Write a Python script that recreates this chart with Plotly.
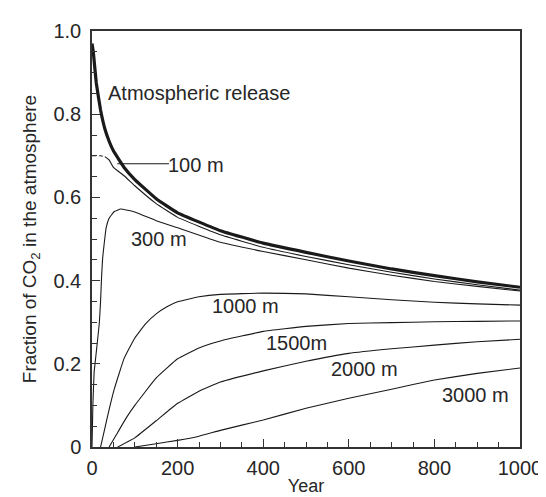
import plotly.graph_objects as go

# ---- data ----
atm_years = [0, 3, 10, 20, 30, 40, 50, 75, 100, 150, 200, 300, 400, 500, 600, 700, 800, 900, 1000]
atm_vals = [0.97, 0.95, 0.875, 0.81, 0.765, 0.735, 0.712, 0.672, 0.643, 0.597, 0.563, 0.52, 0.49, 0.468, 0.447, 0.428, 0.412, 0.397, 0.384]

m100_dash_years = [0, 10, 20, 30]
m100_dash_vals = [0.70, 0.70, 0.70, 0.698]
m100_years = [30, 40, 50, 75, 100, 150, 200, 300, 400, 500, 600, 700, 800, 900, 1000]
m100_vals = [0.698, 0.69, 0.672, 0.652, 0.628, 0.585, 0.552, 0.51, 0.48, 0.458, 0.438, 0.42, 0.404, 0.39, 0.377]

m300_years = [0, 2, 5, 10, 17, 20, 22, 25, 33, 40, 52, 67, 100, 150, 200, 300, 400, 500, 600, 700, 800, 900, 1000]
m300_vals = [0.0, 0.1, 0.18, 0.228, 0.297, 0.35, 0.40, 0.455, 0.527, 0.55, 0.566, 0.572, 0.565, 0.544, 0.527, 0.492, 0.47, 0.45, 0.43, 0.413, 0.398, 0.386, 0.375]

m1000_years = [20, 30, 40, 52, 75, 100, 125, 150, 175, 200, 250, 300, 400, 500, 600, 700, 800, 900, 1000]
m1000_vals = [0.0, 0.045, 0.09, 0.139, 0.213, 0.262, 0.296, 0.32, 0.337, 0.349, 0.361, 0.367, 0.37, 0.368, 0.361, 0.354, 0.348, 0.344, 0.341]

m1500_years = [40, 60, 80, 100, 150, 200, 250, 300, 400, 500, 600, 700, 800, 900, 1000]
m1500_vals = [0.0, 0.035, 0.07, 0.10, 0.166, 0.212, 0.238, 0.255, 0.278, 0.29, 0.297, 0.299, 0.301, 0.302, 0.303]

m2000_years = [60, 100, 150, 200, 250, 300, 400, 500, 600, 700, 800, 900, 1000]
m2000_vals = [0.0, 0.022, 0.063, 0.105, 0.134, 0.156, 0.183, 0.206, 0.225, 0.236, 0.245, 0.253, 0.259]

m3000_years = [100, 150, 200, 250, 300, 400, 500, 600, 700, 800, 900, 1000]
m3000_vals = [0.0, 0.008, 0.016, 0.026, 0.04, 0.065, 0.093, 0.117, 0.139, 0.161, 0.177, 0.19]

label_texts = ["Atmospheric release", "300 m", "1000 m", "1500m", "2000 m", "3000 m"]
label_x = [40, 93, 283, 409, 561, 819]
label_y = [0.851, 0.499, 0.338, 0.249, 0.188, 0.124]

leader_x = [59, 180]
leader_y = [0.681, 0.681]
leader_text = "100 m"

x_ticks = [0, 200, 400, 600, 800, 1000]
y_ticks = [0, 0.2, 0.4, 0.6, 0.8, 1.0]
y_ticktext = ["0", "0.2", "0.4", "0.6", "0.8", "1.0"]

FONT = "Liberation Sans, Arial, sans-serif"
TXT = "#262626"
LINE = "#1a1a1a"

fig = go.Figure()

def add_line(xs, ys, width=1.1, dash="solid"):
    fig.add_trace(go.Scatter(x=xs, y=ys, mode="lines",
                             line=dict(color=LINE, width=width, dash=dash, shape="spline", smoothing=0.3),
                             showlegend=False, hoverinfo="skip"))

add_line(m3000_years, m3000_vals)
add_line(m2000_years, m2000_vals)
add_line(m1500_years, m1500_vals)
add_line(m1000_years, m1000_vals)
add_line(m300_years, m300_vals)
add_line(m100_dash_years, m100_dash_vals, dash="4px,3px")
add_line(m100_years, m100_vals)
add_line(atm_years, atm_vals, width=3.2)

# leader line for the 100 m label
fig.add_trace(go.Scatter(x=leader_x, y=leader_y, mode="lines",
                         line=dict(color=LINE, width=1.1), showlegend=False, hoverinfo="skip"))

for t, x, y in zip(label_texts, label_x, label_y):
    fig.add_annotation(x=x, y=y, text=t, showarrow=False, xanchor="left", yanchor="middle",
                       xshift=-3, font=dict(family=FONT, size=20, color=TXT))
fig.add_annotation(x=leader_x[1], y=leader_y[1], text=leader_text, showarrow=False,
                   xanchor="left", yanchor="middle", xshift=-3, yshift=-1,
                   font=dict(family=FONT, size=20, color=TXT))

axis_common = dict(showgrid=False, zeroline=False, showline=True, linecolor="#333333", linewidth=1.5,
                   mirror=True, ticks="inside", ticklen=8, tickwidth=1.2, tickcolor="#333333",
                   tickfont=dict(family=FONT, size=20, color=TXT))

fig.update_xaxes(range=[0, 1000], tickvals=x_ticks, ticktext=[str(v) for v in x_ticks],
                 minor=dict(dtick=50, ticks="inside", ticklen=5, tickcolor="#333333", tickwidth=1),
                 ticklabelstandoff=2,
                 title=dict(text="Year", font=dict(family=FONT, size=18, color=TXT), standoff=2),
                 **axis_common)
fig.update_yaxes(range=[0, 1.0], tickvals=y_ticks, ticktext=y_ticktext,
                 minor=dict(dtick=0.05, ticks="inside", ticklen=5, tickcolor="#333333", tickwidth=1),
                 ticklabelstandoff=5,
                 title=dict(text="Fraction of CO<sub>2</sub> in the atmosphere",
                            font=dict(family=FONT, size=19, color=TXT), standoff=12),
                 **axis_common)

fig.update_layout(width=546, height=497, margin=dict(l=84, r=23, t=21, b=55),
                  plot_bgcolor="white", paper_bgcolor="white")

fig.write_html("out.html")
